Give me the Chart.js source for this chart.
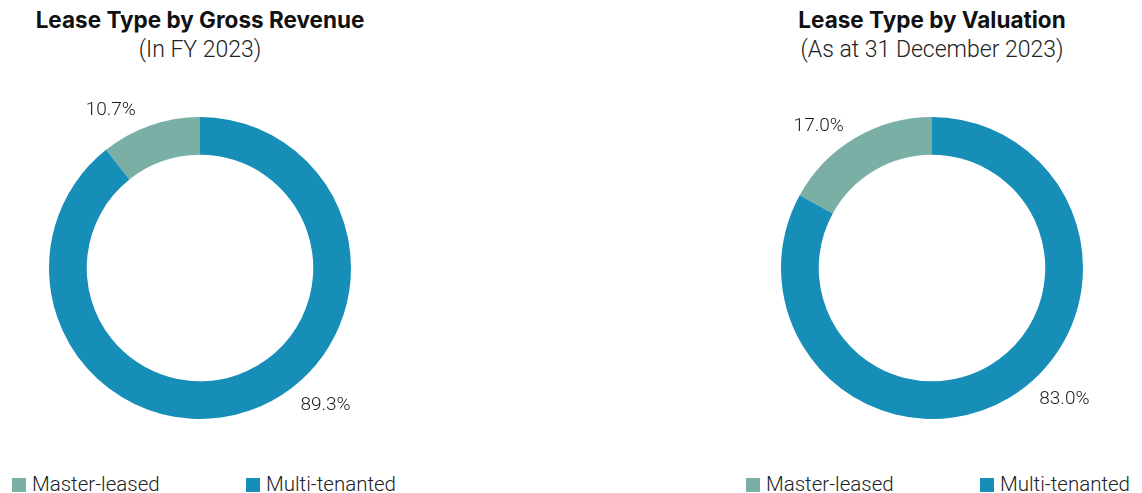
<!DOCTYPE html>
<html>
<head>
<meta charset="utf-8">
<script src="https://cdn.jsdelivr.net/npm/chart.js@4"></script>
<style>
    html, body { margin: 0; padding: 0; background: #fff; }
    body { width: 1142px; height: 493px; position: relative; overflow: hidden; font-family: Roboto, "Liberation Sans", sans-serif; }
    .panel { position: absolute; top: 0; width: 400px; height: 493px; }
    .title { position: absolute; top: 5px; left: 0; width: 100%; text-align: center; font-family: Inter, "Liberation Sans", sans-serif; font-weight: 700; font-size: 22.5px; color: #111; line-height: 30px; }
    .subtitle { position: absolute; top: 35px; left: 0; width: 100%; text-align: center; font-weight: 300; font-size: 23px; color: #222; line-height: 30px; }
    .chart-box { position: absolute; top: 80px; left: 0; width: 400px; height: 376px; }
    .legend { position: absolute; top: 471px; height: 26px; font-size: 20.5px; font-weight: 300; color: #222; line-height: 26px; }
    .legend .sw { display: inline-block; width: 14px; height: 14px; vertical-align: -1px; margin-right: 6px; }
</style>
</head>
<body>
<div class="panel" id="left" style="left:0">
    <div class="title">Lease Type by Gross Revenue</div>
    <div class="subtitle">(In FY 2023)</div>
    <div class="chart-box"><canvas id="revenueChart"></canvas></div>
</div>
<div class="panel" id="right" style="left:732px">
    <div class="title">Lease Type by Valuation</div>
    <div class="subtitle">(As at 31 December 2023)</div>
    <div class="chart-box"><canvas id="valuationChart"></canvas></div>
</div>
<div class="legend" style="left:12px"><span class="sw" style="background:#79afa4"></span>Master-leased</div>
<div class="legend" style="left:246px"><span class="sw" style="background:#178eb8"></span>Multi-tenanted</div>
<div class="legend" style="left:746px"><span class="sw" style="background:#79afa4"></span>Master-leased</div>
<div class="legend" style="left:980px"><span class="sw" style="background:#178eb8"></span>Multi-tenanted</div>

<script>
// Lease split, in percent
const leaseTypes = ['Master-leased', 'Multi-tenanted'];
const revenueShare = [10.7, 89.3];
const valuationShare = [17.0, 83.0];
const leaseColors = ['#79afa4', '#178eb8'];

// Draws the percentage next to each slice, outside the ring.
// labelAngles are degrees clockwise from 12 o'clock, one per slice.
const outsideLabels = {
    id: 'outsideLabels',
    afterDatasetsDraw(chart, args, opts) {
        const { ctx } = chart;
        const meta = chart.getDatasetMeta(0);
        const values = chart.data.datasets[0].data;
        ctx.save();
        ctx.font = opts.font;
        ctx.fillStyle = opts.color;
        ctx.textAlign = 'center';
        ctx.textBaseline = 'middle';
        meta.data.forEach((arc, i) => {
            const a = (opts.labelAngles[i] - 90) * Math.PI / 180;
            const r = arc.outerRadius + opts.offset;
            ctx.fillText(values[i].toFixed(1) + '%', arc.x + Math.cos(a) * r, arc.y + Math.sin(a) * r + 3);
        });
        ctx.restore();
    }
};

function renderDoughnut(id, values, labelAngles) {
    const ctx = document.getElementById(id);
    return new Chart(ctx, {
        type: 'doughnut',
        data: {
            labels: leaseTypes,
            datasets: [{
                data: values,
                backgroundColor: leaseColors,
                borderWidth: 0
            }]
        },
        options: {
            responsive: true,
            maintainAspectRatio: false,
            animation: false,
            cutout: '75%',
            // master-leased slice ends at 12 o'clock
            rotation: -values[0] / 100 * 360,
            layout: { padding: 37 },
            plugins: {
                legend: { display: false },
                tooltip: { enabled: false },
                outsideLabels: {
                    labelAngles: labelAngles,
                    offset: 33,
                    font: '300 19px Roboto, "Liberation Sans", sans-serif',
                    color: '#1a1a1a'
                }
            }
        },
        plugins: [outsideLabels]
    });
}

renderDoughnut('revenueChart', revenueShare, [-29, 137]);
renderDoughnut('valuationChart', valuationShare, [-38, 134]);
</script>
</body>
</html>
